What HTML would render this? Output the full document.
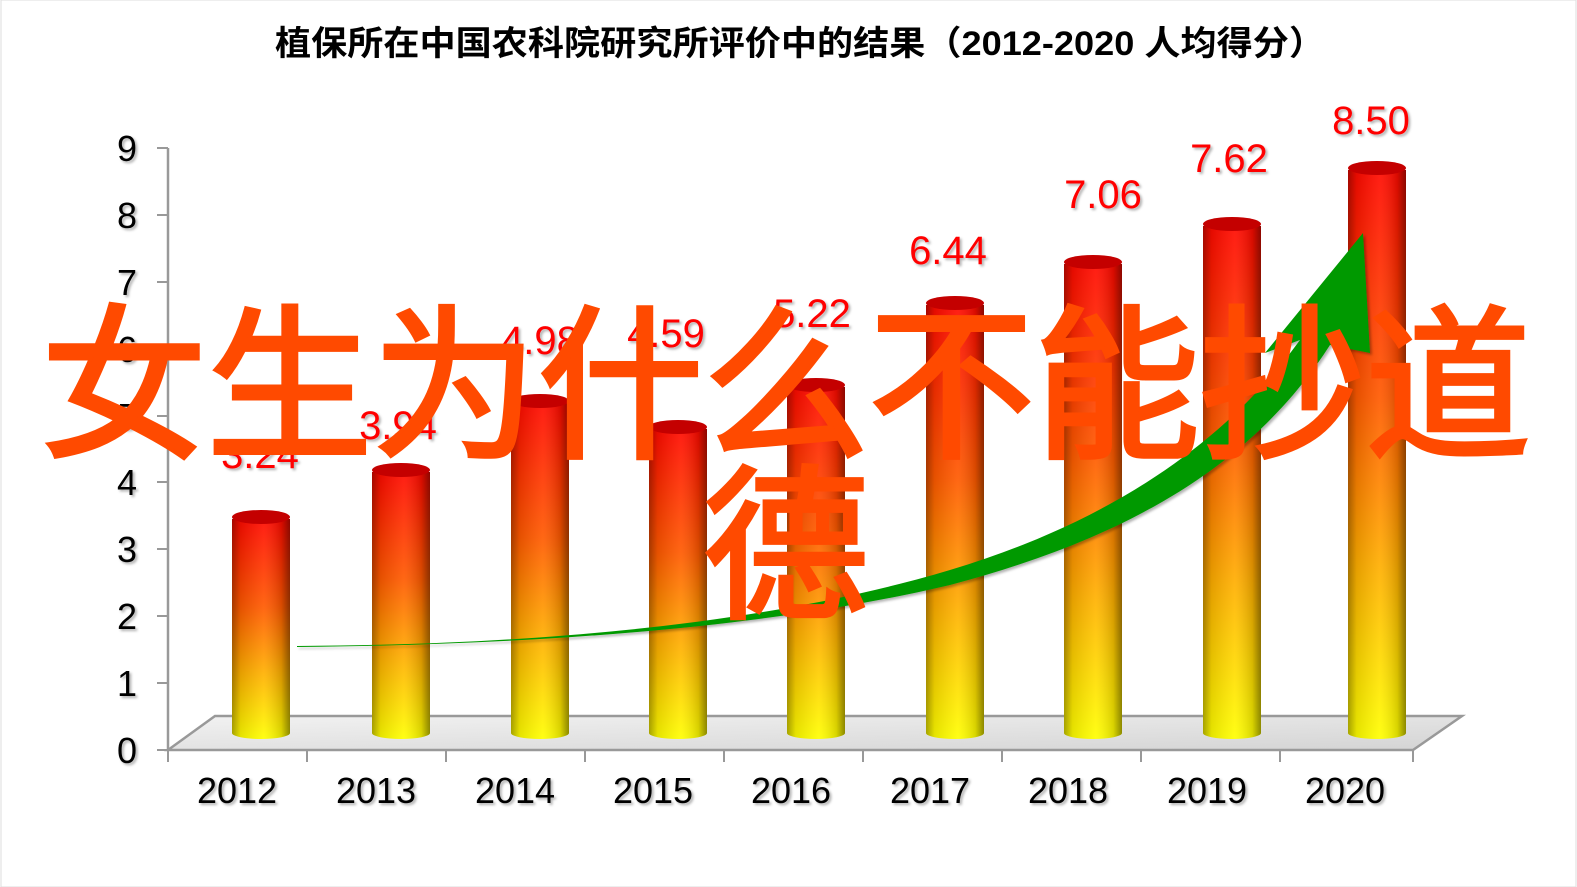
<!DOCTYPE html>
<html><head><meta charset="utf-8"><style>
html,body{margin:0;padding:0;background:#fff;}
svg{display:block;}
</style></head><body>
<svg width="1577" height="887" viewBox="0 0 1577 887" xmlns="http://www.w3.org/2000/svg">
<defs>
<linearGradient id="v" x1="0" y1="0" x2="0" y2="1">
<stop offset="0" stop-color="#ff0a00"/><stop offset="0.4" stop-color="#ff5a00"/><stop offset="0.7" stop-color="#ffb000"/><stop offset="1" stop-color="#ffff00"/>
</linearGradient>
<linearGradient id="h" x1="0" y1="0" x2="1" y2="0">
<stop offset="0" stop-color="#000" stop-opacity="0.35"/><stop offset="0.15" stop-color="#000" stop-opacity="0.1"/><stop offset="0.55" stop-color="#fff" stop-opacity="0.08"/><stop offset="0.85" stop-color="#000" stop-opacity="0.15"/><stop offset="1" stop-color="#000" stop-opacity="0.45"/>
</linearGradient>
<linearGradient id="fl" x1="0" y1="0" x2="1" y2="1">
<stop offset="0" stop-color="#f2f2f2"/><stop offset="1" stop-color="#d4d4d4"/>
</linearGradient>
<filter id="sh"><feDropShadow dx="2" dy="2" stdDeviation="1.2" flood-color="#000" flood-opacity="0.3"/></filter>
</defs>
<rect x="1" y="0" width="1575" height="887" fill="#fff" stroke="#ddd" stroke-width="1"/>
<text x="800" y="55" text-anchor="middle" font-family="'Liberation Sans','Noto Sans CJK SC',sans-serif" font-weight="bold" font-size="34" fill="#000" textLength="1050" lengthAdjust="spacingAndGlyphs">植保所在中国农科院研究所评价中的结果（2012-2020  人均得分）</text>
<!-- floor -->
<polygon points="168,750 215,716 1462,716 1413,750" fill="url(#fl)" stroke="#999" stroke-width="2.5"/>
<line x1="168" y1="148" x2="168" y2="750" stroke="#999" stroke-width="2.5"/>
<g stroke="#999" stroke-width="2">
<line x1="157" y1="148" x2="168" y2="148"/><line x1="157" y1="215" x2="168" y2="215"/><line x1="157" y1="282" x2="168" y2="282"/><line x1="157" y1="349" x2="168" y2="349"/><line x1="157" y1="416" x2="168" y2="416"/><line x1="157" y1="482" x2="168" y2="482"/><line x1="157" y1="549" x2="168" y2="549"/><line x1="157" y1="616" x2="168" y2="616"/><line x1="157" y1="683" x2="168" y2="683"/><line x1="157" y1="750" x2="168" y2="750"/>
<line x1="168" y1="750" x2="168" y2="762"/><line x1="307" y1="750" x2="307" y2="762"/><line x1="446" y1="750" x2="446" y2="762"/><line x1="585" y1="750" x2="585" y2="762"/><line x1="724" y1="750" x2="724" y2="762"/><line x1="863" y1="750" x2="863" y2="762"/><line x1="1002" y1="750" x2="1002" y2="762"/><line x1="1141" y1="750" x2="1141" y2="762"/><line x1="1280" y1="750" x2="1280" y2="762"/><line x1="1413" y1="750" x2="1413" y2="762"/>
</g>
<g font-family="'Liberation Sans',sans-serif" font-size="36" fill="#000" text-anchor="end" filter="url(#sh)">
<text x="137" y="161">9</text><text x="137" y="228">8</text><text x="137" y="295">7</text><text x="137" y="362">6</text><text x="137" y="429">5</text><text x="137" y="495">4</text><text x="137" y="562">3</text><text x="137" y="629">2</text><text x="137" y="696">1</text><text x="137" y="763">0</text>
</g>
<g font-family="'Liberation Sans',sans-serif" font-size="36" fill="#000" text-anchor="middle" filter="url(#sh)">
<text x="237" y="803">2012</text><text x="376" y="803">2013</text><text x="515" y="803">2014</text><text x="653" y="803">2015</text><text x="791" y="803">2016</text><text x="930" y="803">2017</text><text x="1068" y="803">2018</text><text x="1207" y="803">2019</text><text x="1345" y="803">2020</text>
</g>
<!-- bars -->
<g>
<g transform="translate(232,0)"><path d="M0,519 L0,733 A29,6 0 0 0 58,733 L58,519 Z" fill="url(#v)"/><path d="M0,519 L0,733 A29,6 0 0 0 58,733 L58,519 Z" fill="url(#h)"/><ellipse cx="29" cy="517" rx="29" ry="7" fill="#c40000"/></g>
<g transform="translate(372,0)"><path d="M0,472 L0,733 A29,6 0 0 0 58,733 L58,472 Z" fill="url(#v)"/><path d="M0,472 L0,733 A29,6 0 0 0 58,733 L58,472 Z" fill="url(#h)"/><ellipse cx="29" cy="470" rx="29" ry="7" fill="#c40000"/></g>
<g transform="translate(511,0)"><path d="M0,403 L0,733 A29,6 0 0 0 58,733 L58,403 Z" fill="url(#v)"/><path d="M0,403 L0,733 A29,6 0 0 0 58,733 L58,403 Z" fill="url(#h)"/><ellipse cx="29" cy="401" rx="29" ry="7" fill="#c40000"/></g>
<g transform="translate(649,0)"><path d="M0,429 L0,733 A29,6 0 0 0 58,733 L58,429 Z" fill="url(#v)"/><path d="M0,429 L0,733 A29,6 0 0 0 58,733 L58,429 Z" fill="url(#h)"/><ellipse cx="29" cy="427" rx="29" ry="7" fill="#c40000"/></g>
<g transform="translate(787,0)"><path d="M0,387 L0,733 A29,6 0 0 0 58,733 L58,387 Z" fill="url(#v)"/><path d="M0,387 L0,733 A29,6 0 0 0 58,733 L58,387 Z" fill="url(#h)"/><ellipse cx="29" cy="385" rx="29" ry="7" fill="#c40000"/></g>
<g transform="translate(926,0)"><path d="M0,305 L0,733 A29,6 0 0 0 58,733 L58,305 Z" fill="url(#v)"/><path d="M0,305 L0,733 A29,6 0 0 0 58,733 L58,305 Z" fill="url(#h)"/><ellipse cx="29" cy="303" rx="29" ry="7" fill="#c40000"/></g>
<g transform="translate(1064,0)"><path d="M0,264 L0,733 A29,6 0 0 0 58,733 L58,264 Z" fill="url(#v)"/><path d="M0,264 L0,733 A29,6 0 0 0 58,733 L58,264 Z" fill="url(#h)"/><ellipse cx="29" cy="262" rx="29" ry="7" fill="#c40000"/></g>
<g transform="translate(1203,0)"><path d="M0,226 L0,733 A29,6 0 0 0 58,733 L58,226 Z" fill="url(#v)"/><path d="M0,226 L0,733 A29,6 0 0 0 58,733 L58,226 Z" fill="url(#h)"/><ellipse cx="29" cy="224" rx="29" ry="7" fill="#c40000"/></g>
<g transform="translate(1348,0)"><path d="M0,170 L0,733 A29,6 0 0 0 58,733 L58,170 Z" fill="url(#v)"/><path d="M0,170 L0,733 A29,6 0 0 0 58,733 L58,170 Z" fill="url(#h)"/><ellipse cx="29" cy="168" rx="29" ry="7" fill="#c40000"/></g>
</g>
<!-- arrow -->
<path d="M297,646 C500,645 750,630 950,570 C1100,525 1220,450 1300,340 L1265,353 L1363,233 L1370,353 L1330,345 C1250,470 1120,540 950,585 C760,630 520,645 297,647 Z" fill="#009900" filter="url(#sh)"/>
<!-- data labels -->
<g font-family="'Liberation Sans',sans-serif" font-size="40" fill="#ff0000" text-anchor="middle" filter="url(#sh)">
<text x="260" y="468">3.24</text><text x="398" y="439">3.94</text><text x="540" y="354">4.98</text><text x="666" y="347">4.59</text><text x="812" y="327">5.22</text><text x="948" y="264">6.44</text><text x="1103" y="208">7.06</text><text x="1229" y="172">7.62</text><text x="1371" y="134">8.50</text>
</g>
<!-- overlay -->
<g font-family="'Noto Sans CJK SC',sans-serif" font-size="166" fill="#ff4a00" stroke="#ff4a00" stroke-width="4" text-anchor="middle">
<text x="786" y="445" textLength="1490" lengthAdjust="spacing">女生为什么不能抄道</text>
<text x="786" y="605">德</text>
</g>
</svg>
</body></html>
